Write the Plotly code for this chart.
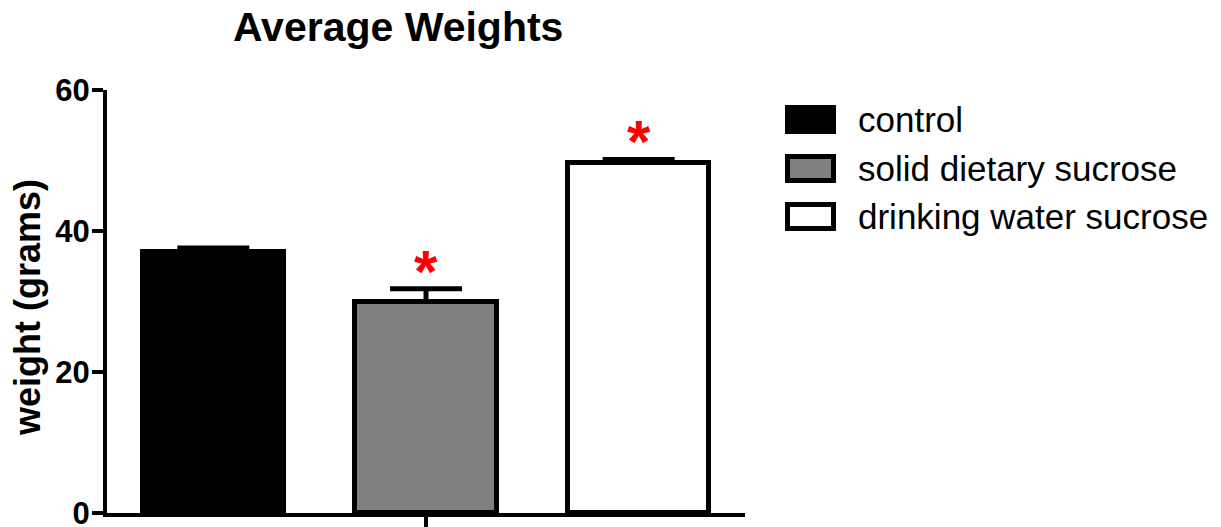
import plotly.graph_objects as go

# Group data
groups = ["control", "solid dietary sucrose", "drinking water sucrose"]
mean_weight = [37.0, 30.0, 49.7]
sem_weight = [0.6, 1.8, 0.45]
fill_colors = ["#000000", "#808080", "#ffffff"]
significant = [False, True, True]
y_ticks = [0, 20, 40, 60]

FONT = "Liberation Sans, Arial, sans-serif"

# Figure geometry (pixels) used to place paper-referenced items
W, H = 1221, 527
L, R, T, B = 107, 745, 90, 513


def px_x(p):
    return (p - L) / (R - L)


def px_y(p):
    return (B - p) / (B - T)


fig = go.Figure()
for i, (g, m, e, c) in enumerate(zip(groups, mean_weight, sem_weight, fill_colors)):
    fig.add_trace(go.Bar(
        x=[i], y=[m], name=g, width=0.665,
        marker=dict(color=c, line=dict(color="black", width=5)),
        error_y=dict(type="data", symmetric=False, array=[e], arrayminus=[0],
                     color="black", thickness=5, width=36),
        showlegend=False,
    ))

# Significance markers above the error bars
for i, (m, e, s) in enumerate(zip(mean_weight, sem_weight, significant)):
    if s:
        fig.add_annotation(x=i, y=m + e, xref="x", yref="y", text="<b>*</b>",
                           showarrow=False, yanchor="bottom", yshift=-18,
                           font=dict(family=FONT, size=60, color="#ff0000"))

# Legend drawn as boxes with labels
legend_tops = [107.5, 156.5, 204.5]
for g, c, top in zip(groups, fill_colors, legend_tops):
    fig.add_shape(type="rect", xref="paper", yref="paper",
                  x0=px_x(787.5), x1=px_x(833.5), y0=px_y(top), y1=px_y(top + 24),
                  fillcolor=c, line=dict(color="black", width=5), layer="above")
    fig.add_annotation(xref="paper", yref="paper", x=px_x(856), y=px_y(top + 12),
                       text=g, showarrow=False, xanchor="left", yanchor="middle",
                       font=dict(family=FONT, size=35, color="black"))

# Title and y-axis label
fig.add_annotation(xref="paper", yref="paper", x=px_x(398), y=px_y(27),
                   text="<b>Average Weights</b>", showarrow=False,
                   xanchor="center", yanchor="middle",
                   font=dict(family=FONT, size=41, color="black"))
fig.add_annotation(xref="paper", yref="paper", x=px_x(27), y=px_y(308),
                   text="<b>weight (grams)</b>", showarrow=False, textangle=-90,
                   xanchor="center", yanchor="middle",
                   font=dict(family=FONT, size=36, color="black"))

fig.update_layout(
    width=W, height=H,
    margin=dict(l=L, r=W - R, t=T, b=H - B, autoexpand=False),
    plot_bgcolor="white", paper_bgcolor="white",
    showlegend=False,
    bargap=0,
)
fig.update_xaxes(range=[-0.5, 2.5], showgrid=False, zeroline=False,
                 showline=True, linecolor="black", linewidth=4,
                 tickvals=[1], ticktext=[""], showticklabels=False,
                 automargin=False, ticks="outside",
                 ticklen=11, tickwidth=4, tickcolor="black")
fig.update_yaxes(range=[0, 60], showgrid=False, zeroline=False,
                 showline=True, linecolor="black", linewidth=4,
                 automargin=False, ticklabeloverflow="allow",
                 ticklabelstandoff=-4,
                 tickvals=y_ticks, ticks="outside", ticklen=11, tickwidth=4,
                 tickcolor="black",
                 tickfont=dict(family=FONT, size=31, color="black", weight="bold"))

fig.write_html("out.html")
